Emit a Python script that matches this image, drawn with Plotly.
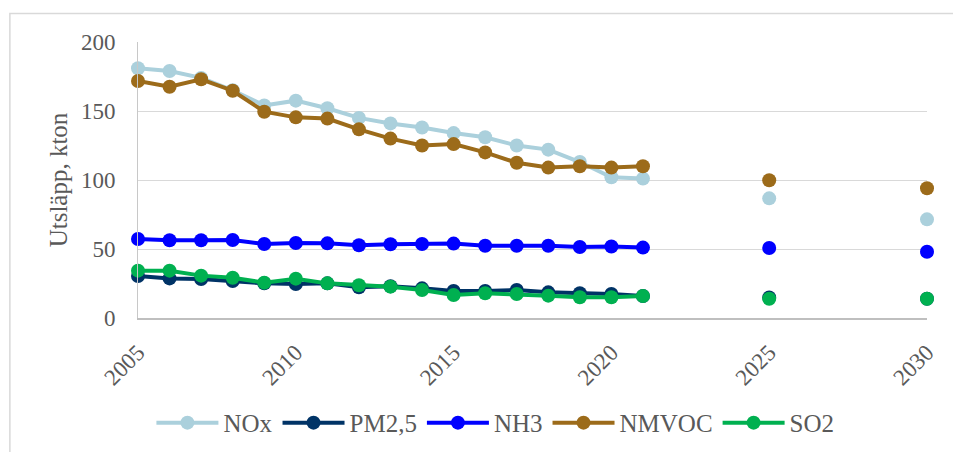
import plotly.graph_objects as go

years = list(range(2005, 2031))

# 2005-2021 historik, 2025 och 2030 prognos (None = saknas)
nox = [181, 179, 174, 165, 154, 157.5, 152, 145, 141, 138, 134, 131, 125, 122, 113, 102, 101,
       None, None, None, 86.7, None, None, None, None, 71.5]
pm25 = [30.4, 28.7, 28.3, 26.8, 25.1, 24.6, 25.1, 22.2, 23, 21.5, 19.6, 19.6, 20.3, 18.6, 17.9, 17.4, 15.9,
        None, None, None, 14.9, None, None, None, None, 14]
nh3 = [57.2, 56.3, 56.3, 56.5, 53.6, 54.3, 54.1, 52.7, 53.4, 53.6, 53.9, 52.4, 52.4, 52.4, 51.4, 51.8, 51,
       None, None, None, 50.7, None, None, None, None, 48]
nmvoc = [171.7, 167.6, 173, 164.7, 149.5, 145.4, 144.5, 136.7, 130, 125, 126, 120, 112.5, 109, 110, 109, 110,
         None, None, None, 99.8, None, None, None, None, 94]
so2 = [34.3, 34.3, 30.7, 29.2, 25.6, 28.5, 25.1, 23.7, 22.7, 20.3, 16.7, 17.9, 17.4, 16.2, 15, 15, 15.9,
       None, None, None, 14, None, None, None, None, 14]

series = [
    ("NOx", nox, "#abd0dc"),
    ("PM2,5", pm25, "#003366"),
    ("NH3", nh3, "#0000ff"),
    ("NMVOC", nmvoc, "#9c6b1a"),
    ("SO2", so2, "#00b050"),
]

font_family = "Liberation Serif, Times New Roman, serif"
text_color = "#595959"

fig = go.Figure()
for name, vals, color in series:
    fig.add_trace(go.Scatter(
        x=years, y=vals, name=name, mode="lines+markers",
        line=dict(color=color, width=4),
        marker=dict(color=color, size=14),
        connectgaps=False, cliponaxis=False))

fig.update_layout(
    width=961, height=452,
    margin=dict(l=130, r=42, t=34, b=142, autoexpand=False),
    paper_bgcolor="white", plot_bgcolor="white",
    font=dict(family=font_family, color=text_color, size=23),
    showlegend=True,
    legend=dict(orientation="h", x=0.453, xanchor="center", y=-0.38, yanchor="middle",
                font=dict(size=25), itemwidth=62, bgcolor="rgba(0,0,0,0)"),
    shapes=[dict(type="rect", xref="paper", yref="paper",
                 x0=-0.1624, x1=1.2, y0=-0.7, y1=1.103,
                 line=dict(color="#d9d9d9", width=1.5), layer="below")],
)

fig.update_xaxes(
    range=[2005, 2030], tickvals=[2005, 2010, 2015, 2020, 2025, 2030],
    tickangle=-45, showgrid=False, zeroline=False,
    showline=True, linecolor="#bfbfbf", linewidth=2,
    ticklabelstandoff=10, tickfont=dict(size=23))

fig.update_yaxes(
    range=[0, 200], dtick=50, showgrid=True, gridcolor="#d9d9d9", gridwidth=1.3,
    zeroline=False, showline=True, linecolor="#c8c8c8", linewidth=1,
    ticklabelstandoff=17, tickfont=dict(size=23),
    title=dict(text="Utsläpp, kton", font=dict(size=25), standoff=6))

fig.write_html("out.html")
